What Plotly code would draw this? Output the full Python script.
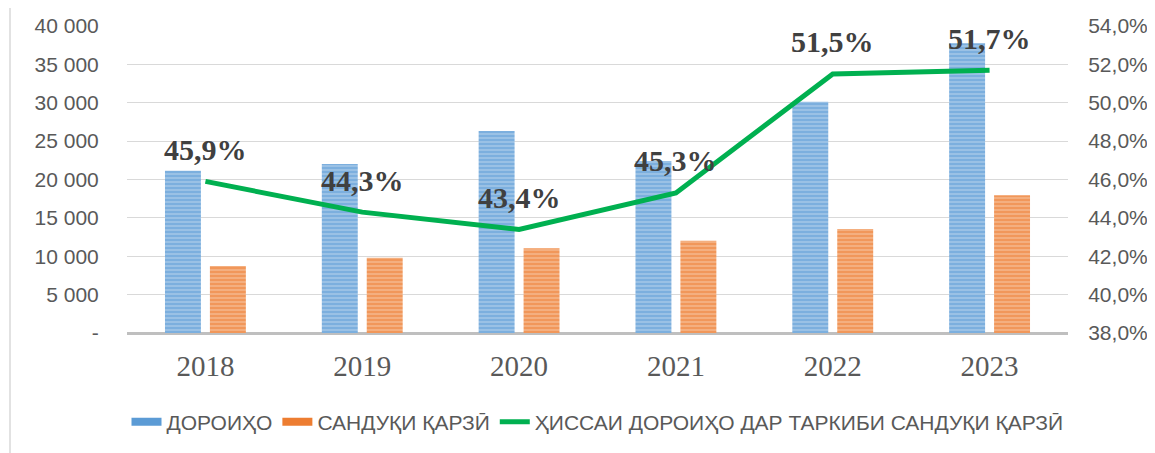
import plotly.graph_objects as go

years = ["2018", "2019", "2020", "2021", "2022", "2023"]
doroiho = [21150, 22020, 26320, 22410, 30140, 37740]
sanduq = [8730, 9810, 11030, 12030, 13550, 17940]
share = [0.459, 0.443, 0.434, 0.453, 0.515, 0.517]
share_labels = ["45,9%", "44,3%", "43,4%", "45,3%", "51,5%", "51,7%"]

y_ticks = [0, 5000, 10000, 15000, 20000, 25000, 30000, 35000, 40000]
y_ticktext = ["-", "5 000", "10 000", "15 000", "20 000", "25 000", "30 000", "35 000", "40 000"]
y2_ticks = [0.38, 0.40, 0.42, 0.44, 0.46, 0.48, 0.50, 0.52, 0.54]
y2_ticktext = ["38,0%", "40,0%", "42,0%", "44,0%", "46,0%", "48,0%", "50,0%", "52,0%", "54,0%"]

names = ["ДОРОИҲО", "САНДУҚИ ҚАРЗӢ", "ҲИССАИ ДОРОИҲО ДАР ТАРКИБИ САНДУҚИ ҚАРЗӢ"]
BLUE, BLUE_LIGHT = "#5B9BD5", "#9DC3E6"
ORANGE, ORANGE_LIGHT = "#ED7D31", "#F4B183"
GREEN = "#00B050"

fig = go.Figure()
fig.add_trace(go.Bar(
    x=years, y=doroiho, name=names[0], showlegend=False, legendgroup="a",
    marker=dict(color=BLUE, line=dict(width=0),
                pattern=dict(shape="-", fgcolor=BLUE, bgcolor=BLUE_LIGHT,
                             size=4, solidity=0.55)),
))
fig.add_trace(go.Bar(
    x=years, y=sanduq, name=names[1], showlegend=False, legendgroup="b",
    marker=dict(color=ORANGE, line=dict(width=0),
                pattern=dict(shape="-", fgcolor=ORANGE, bgcolor=ORANGE_LIGHT,
                             size=4, solidity=0.55)),
))
# legend proxies (wide flat swatches like the original legend keys)
fig.add_trace(go.Scatter(x=[None], y=[None], mode="lines", name=names[0],
                         legendgroup="a", line=dict(color=BLUE, width=8)))
fig.add_trace(go.Scatter(x=[None], y=[None], mode="lines", name=names[1],
                         legendgroup="b", line=dict(color=ORANGE, width=8)))
fig.add_trace(go.Scatter(
    x=years, y=share, name=names[2], yaxis="y2", mode="lines",
    line=dict(color=GREEN, width=5),
))

# annotations on a category axis take the category's serial index
for i, (y, t) in enumerate(zip(share, share_labels)):
    fig.add_annotation(x=i, y=y, xref="x", yref="y2", text=t, showarrow=False,
                       yshift=32, yanchor="middle",
                       font=dict(family="Liberation Serif", size=30, color="#404040",
                                 weight="bold"))

# page has an 8px body margin: shrink the figure so it fits the window
OFF = 8
W, H = 1155 - OFF, 453 - OFF
L, R, T, B = 127 - OFF, 87, 26 - OFF, 120
pw = W - L - R
ph = H - T - B

fig.add_shape(type="line", xref="paper", yref="paper",
              x0=(2 - L) / pw, x1=(2 - L) / pw,
              y0=-B / ph, y1=1 + T / ph,
              line=dict(color="#D9D9D9", width=1.5))

fig.update_layout(
    width=W, height=H,
    margin=dict(l=L, r=R, t=T, b=B, autoexpand=False),
    paper_bgcolor="white", plot_bgcolor="white",
    barmode="group", bargap=0.427, bargroupgap=0.2,
    font=dict(family="Liberation Sans", size=21, color="#595959"),
    xaxis=dict(type="category", range=[-0.5, 5.5], showline=False, showgrid=False,
               ticks="outside", ticklen=7, tickcolor="rgba(0,0,0,0)",
               tickfont=dict(family="Liberation Serif", size=29, color="#595959")),
    yaxis=dict(range=[0, 40000], tickvals=y_ticks, ticktext=y_ticktext,
               showgrid=True, gridcolor="#D9D9D9", gridwidth=1,
               zeroline=True, zerolinecolor="#BFBFBF", zerolinewidth=3,
               ticks="outside", ticklen=23, tickcolor="rgba(0,0,0,0)",
               tickfont=dict(size=21, color="#595959"), showline=False),
    yaxis2=dict(range=[0.38, 0.54], tickvals=y2_ticks, ticktext=y2_ticktext,
                overlaying="y", side="right", showgrid=False, zeroline=False,
                ticks="outside", ticklen=15, tickcolor="rgba(0,0,0,0)",
                tickfont=dict(size=21, color="#595959"), showline=False),
    legend=dict(orientation="h", x=0.5, xanchor="center", y=-0.29, yanchor="middle",
                font=dict(size=21, color="#595959"), itemwidth=30,
                traceorder="normal"),
    showlegend=True,
)

fig.write_html("out.html")
